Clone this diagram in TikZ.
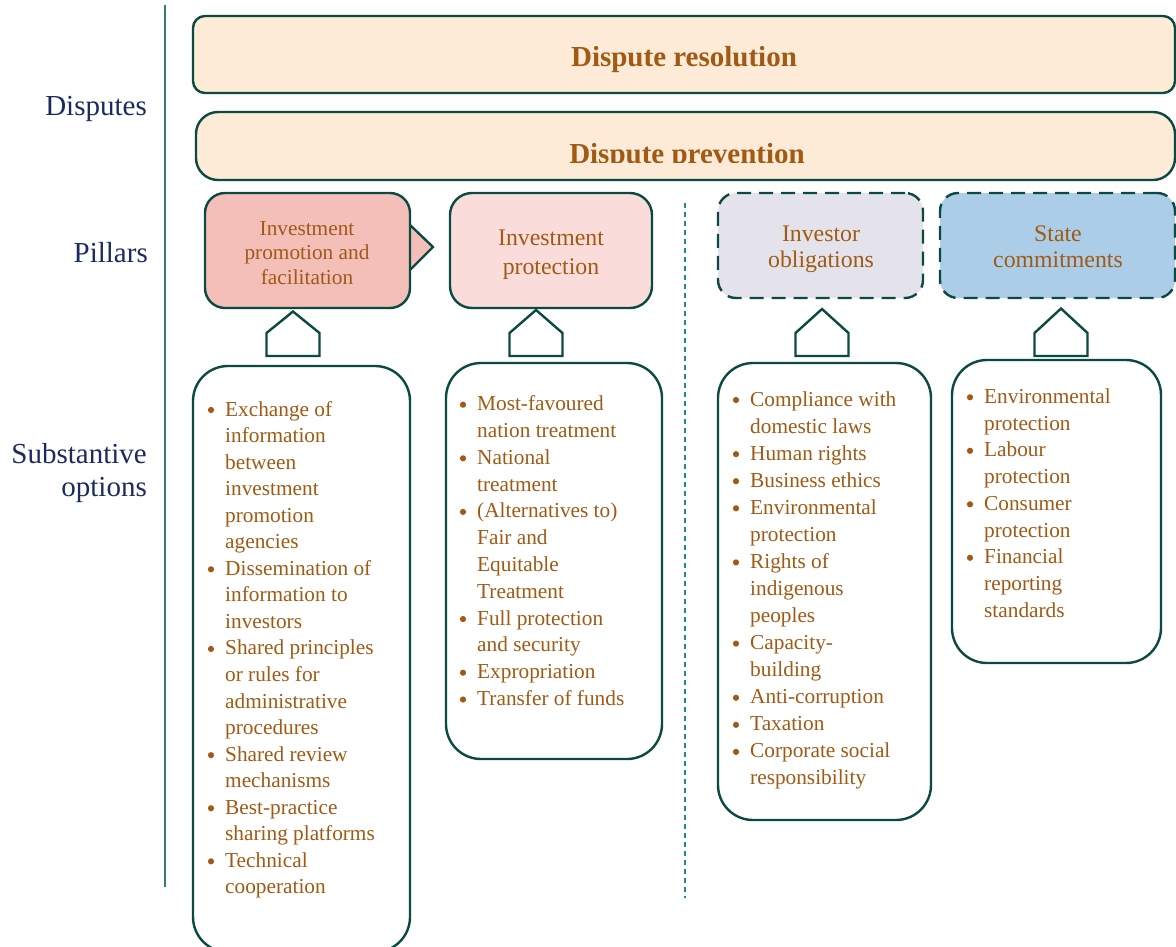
\documentclass[tikz,border=0pt]{standalone}
\usepackage{fontspec}
\setmainfont{Liberation Serif}
\usetikzlibrary{calc}
\definecolor{edge}{HTML}{0B4A40}
\definecolor{vline}{HTML}{2E7F70}
\definecolor{dline}{HTML}{1E8E80}
\definecolor{peach}{HTML}{FDEBD7}
\definecolor{pinkA}{HTML}{F4BEB9}
\definecolor{pinkB}{HTML}{FADDDB}
\definecolor{lav}{HTML}{E4E3EC}
\definecolor{sky}{HTML}{ABCDE7}
\definecolor{brn}{HTML}{A05A14}
\definecolor{navy}{HTML}{1A2B5F}
\newcommand{\itm}{\makebox[18pt][l]{\tikz[baseline=0pt]{\fill[brn] (3.8pt,6pt) circle (3.1pt); \path (0pt,0pt) (7pt,0pt);}}}
\newcommand{\househere}[3]{% cx, peak y, name
  \draw[house] (#1-26.5,356) coordinate (#3) -- (#1-26.5,333) -- (#1,#2) -- (#1+26.5,333) -- (#1+26.5,356) -- cycle;}
\begin{document}
\begin{tikzpicture}[x=1pt,y=-1pt,
  bx/.style={draw=edge, line width=2.4pt, rectangle, inner sep=0pt},
  dbx/.style={bx, dash pattern=on 14pt off 8pt},
  house/.style={draw=edge, line width=2.4pt, fill=white, line join=miter},
  lbl/.style={text=navy, inner sep=0pt, anchor=base east, font=\fontsize{29pt}{33pt}\selectfont},
  ttl/.style={text=brn, inner sep=0pt, anchor=base, font=\fontsize{29pt}{34pt}\selectfont\bfseries},
  lst/.style={text=brn, inner sep=0pt, anchor=base west},
  pil/.style={text=brn, inner sep=0pt, anchor=base}]
\useasboundingbox (0,0) rectangle (1176,946);
\clip (0,0) rectangle (1176,946);

% separators
\draw[vline, line width=1.3pt] (165,5) coordinate (v1) -- (165,887) coordinate (v2);
\draw[dline, line width=1.3pt, dash pattern=on 5pt off 4pt] (685,203) coordinate (d1) -- (685,898) coordinate (d2);

% side labels
\node[lbl] (lDisp) at (147,115) {Disputes};
\node[lbl] (lPill) at (148,262.7) {Pillars};
\node[lbl] (lSubs) at (147,463.3) {\begin{tabular}[t]{@{}r@{}}Substantive\\options\end{tabular}};

% dispute boxes
\node[bx, rounded corners=12pt, minimum width=982pt, minimum height=77pt, fill=peach] (res) at (684,54.5) {};
\node[ttl] (resT) at (684,66) {Dispute resolution};
\node[bx, rounded corners=22pt, minimum width=979pt, minimum height=68pt, fill=peach] (prev) at (685.5,146) {};
\begin{scope}
  \clip (190,100) rectangle (1180,162);
  \node[ttl] (prevT) at (687,163.5) {Dispute prevention};
\end{scope}

% pillars
\draw[draw=edge, line width=2.4pt, fill=pinkA, line join=miter] (410,225) coordinate (ptA) -- (433,247) coordinate (ptTip) -- (410,270) coordinate (ptB);
\node[bx, rounded corners=20pt, minimum width=205pt, minimum height=115pt, fill=pinkA] (p1) at (307.5,250.5) {};
\node[bx, rounded corners=22pt, minimum width=202pt, minimum height=115pt, fill=pinkB] (p2) at (551,250.5) {};
\node[dbx, rounded corners=18pt, minimum width=205pt, minimum height=105pt, fill=lav] (p3) at (820.5,245.5) {};
\node[dbx, rounded corners=18pt, minimum width=235pt, minimum height=105pt, fill=sky] (p4) at (1057.5,245.5) {};

\node[pil, font=\fontsize{21.3pt}{24.5pt}\selectfont] (p1T) at (307,235) {\begin{tabular}[t]{@{}c@{}}Investment\\promotion and\\facilitation\end{tabular}};
\node[pil, font=\fontsize{23.8pt}{28.6pt}\selectfont] (p2T) at (551,245.7) {\begin{tabular}[t]{@{}c@{}}Investment\\protection\end{tabular}};
\node[pil, font=\fontsize{23.8pt}{26.7pt}\selectfont] (p3T) at (821,241) {\begin{tabular}[t]{@{}c@{}}Investor\\obligations\end{tabular}};
\node[pil, font=\fontsize{23.8pt}{26.7pt}\selectfont] (p4T) at (1058,241) {\begin{tabular}[t]{@{}c@{}}State\\commitments\end{tabular}};

% house arrows
\househere{293}{311.5}{h1}
\househere{536}{310}{h2}
\househere{822}{309}{h3}
\househere{1061}{308.5}{h4}

% option boxes
\node[bx, rounded corners=35pt, minimum width=217pt, minimum height=586pt, fill=white] (oA) at (301.5,659) {};
\node[bx, rounded corners=35pt, minimum width=216pt, minimum height=396pt, fill=white] (oB) at (554,561) {};
\node[bx, rounded corners=35pt, minimum width=213pt, minimum height=457pt, fill=white] (oC) at (824.5,591.5) {};
\node[bx, rounded corners=35pt, minimum width=209pt, minimum height=303pt, fill=white] (oD) at (1056.5,511.5) {};

\node[lst, font=\fontsize{21.3pt}{26.55pt}\selectfont] (oAT) at (207,416) {\begin{tabular}[t]{@{}l@{}l@{}}
\itm & Exchange of\\ & information\\ & between\\ & investment\\ & promotion\\ & agencies\\
\itm & Dissemination of\\ & information to\\ & investors\\
\itm & Shared principles\\ & or rules for\\ & administrative\\ & procedures\\
\itm & Shared review\\ & mechanisms\\
\itm & Best-practice\\ & sharing platforms\\
\itm & Technical\\ & cooperation
\end{tabular}};

\node[lst, font=\fontsize{21.3pt}{26.8pt}\selectfont] (oBT) at (459,410.7) {\begin{tabular}[t]{@{}l@{}l@{}}
\itm & Most-favoured\\ & nation treatment\\
\itm & National\\ & treatment\\
\itm & (Alternatives to)\\ & Fair and\\ & Equitable\\ & Treatment\\
\itm & Full protection\\ & and security\\
\itm & Expropriation\\
\itm & Transfer of funds
\end{tabular}};

\node[lst, font=\fontsize{21.3pt}{27.07pt}\selectfont] (oCT) at (732,406) {\begin{tabular}[t]{@{}l@{}l@{}}
\itm & Compliance with\\ & domestic laws\\
\itm & Human rights\\
\itm & Business ethics\\
\itm & Environmental\\ & protection\\
\itm & Rights of\\ & indigenous\\ & peoples\\
\itm & Capacity-\\ & building\\
\itm & Anti-corruption\\
\itm & Taxation\\
\itm & Corporate social\\ & responsibility
\end{tabular}};

\node[lst, font=\fontsize{21.3pt}{26.75pt}\selectfont] (oDT) at (966,403.3) {\begin{tabular}[t]{@{}l@{}l@{}}
\itm & Environmental\\ & protection\\
\itm & Labour\\ & protection\\
\itm & Consumer\\ & protection\\
\itm & Financial\\ & reporting\\ & standards
\end{tabular}};
\end{tikzpicture}
\end{document}
